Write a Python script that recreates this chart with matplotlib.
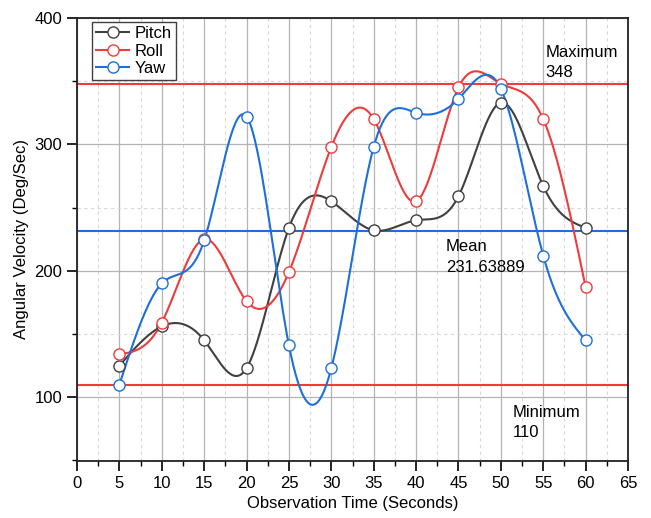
import numpy as np
import matplotlib
matplotlib.use("Agg")
import matplotlib.pyplot as plt
from matplotlib.ticker import MultipleLocator

plt.rcParams['font.family'] = ['Liberation Sans', 'DejaVu Sans']

t = [5, 10, 15, 20, 25, 30, 35, 40, 45, 50, 55, 60]
pitch = [125, 156, 145, 123, 234, 255, 232, 240, 259, 333, 267, 234]
roll = [134, 159, 225, 176, 199, 298, 320, 255, 345, 348, 320, 187]
yaw = [110, 190, 224, 322, 141, 123, 298, 325, 336, 344, 212, 145]

all_vals = np.array(pitch + roll + yaw)
v_max = all_vals.max()
v_min = all_vals.min()
v_mean = all_vals.mean()


def natural_spline(x, y, n=400):
    # plain natural cubic spline, no scipy here
    x = np.asarray(x, float)
    y = np.asarray(y, float)
    k = len(x)
    h = np.diff(x)
    A = np.zeros((k, k))
    b = np.zeros(k)
    A[0, 0] = 1
    A[-1, -1] = 1
    for i in range(1, k - 1):
        A[i, i - 1] = h[i - 1]
        A[i, i] = 2 * (h[i - 1] + h[i])
        A[i, i + 1] = h[i]
        b[i] = 3 * ((y[i + 1] - y[i]) / h[i] - (y[i] - y[i - 1]) / h[i - 1])
    c = np.linalg.solve(A, b)
    xs = np.linspace(x[0], x[-1], n)
    idx = np.clip(np.searchsorted(x, xs) - 1, 0, k - 2)
    dx = xs - x[idx]
    bb = (y[idx + 1] - y[idx]) / h[idx] - h[idx] * (2 * c[idx] + c[idx + 1]) / 3
    dd = (c[idx + 1] - c[idx]) / (3 * h[idx])
    ys = y[idx] + bb * dx + c[idx] * dx ** 2 + dd * dx ** 3
    return xs, ys


fig = plt.figure(figsize=(6.51, 5.18), dpi=100)
ax = fig.add_axes([0.1183, 0.11, 0.8464, 0.8553])

red = '#EE3B3B'
blue = '#1E6FDB'
gray = '#404040'

ax.axhline(v_max, color=red, lw=1.5, zorder=2)
ax.axhline(v_min, color=red, lw=1.5, zorder=2)
ax.axhline(v_mean, color=blue, lw=1.5, zorder=2)

for vals, col, name in [(pitch, gray, 'Pitch'), (roll, red, 'Roll'), (yaw, blue, 'Yaw')]:
    xs, ys = natural_spline(t, vals)
    ax.plot(xs, ys, color=col, lw=1.5, zorder=3)
    ax.plot(t, vals, 'o', color=col, mfc='white', mec=col, ms=8, mew=1.0, zorder=4)
    ax.plot([], [], '-o', color=col, mfc='white', mec=col, ms=8, mew=1.0, lw=1.5, label=name)

ax.text(55.3, 379, 'Maximum\n%d' % v_max, fontsize=12, va='top', ha='left', linespacing=1.45)
ax.text(43.5, 225, 'Mean\n%.5f' % v_mean, fontsize=12, va='top', ha='left', linespacing=1.45)
ax.text(51.4, 94, 'Minimum\n%d' % v_min, fontsize=12, va='top', ha='left', linespacing=1.45)

ax.set_xlim(0, 65)
ax.set_ylim(49.5, 400)
ax.xaxis.set_major_locator(MultipleLocator(5))
ax.xaxis.set_minor_locator(MultipleLocator(2.5))
ax.yaxis.set_major_locator(MultipleLocator(100))
ax.yaxis.set_minor_locator(MultipleLocator(50))

ax.grid(which='major', color='#B4B4B4', lw=0.9)
ax.grid(which='minor', color='#D8D8D8', lw=0.8, ls=(0, (3, 3)))
ax.set_axisbelow(True)

ax.tick_params(which='major', direction='out', length=7, width=1.2, labelsize=12)
ax.tick_params(which='minor', direction='out', length=3.5, width=1.0)
for sp in ax.spines.values():
    sp.set_linewidth(1.3)
    sp.set_color('#222222')

ax.set_xlabel('Observation Time (Seconds)', fontsize=12)
ax.set_ylabel('Angular Velocity (Deg/Sec)', fontsize=12)

leg = ax.legend(loc='upper left', bbox_to_anchor=(0.027, 0.991), borderaxespad=0, fontsize=12,
                fancybox=False, framealpha=1, edgecolor='#404040', handlelength=2.0,
                borderpad=0.25, labelspacing=0.15, handletextpad=0.3)
leg.get_frame().set_linewidth(1.0)

fig.savefig('out.png', dpi=100)
